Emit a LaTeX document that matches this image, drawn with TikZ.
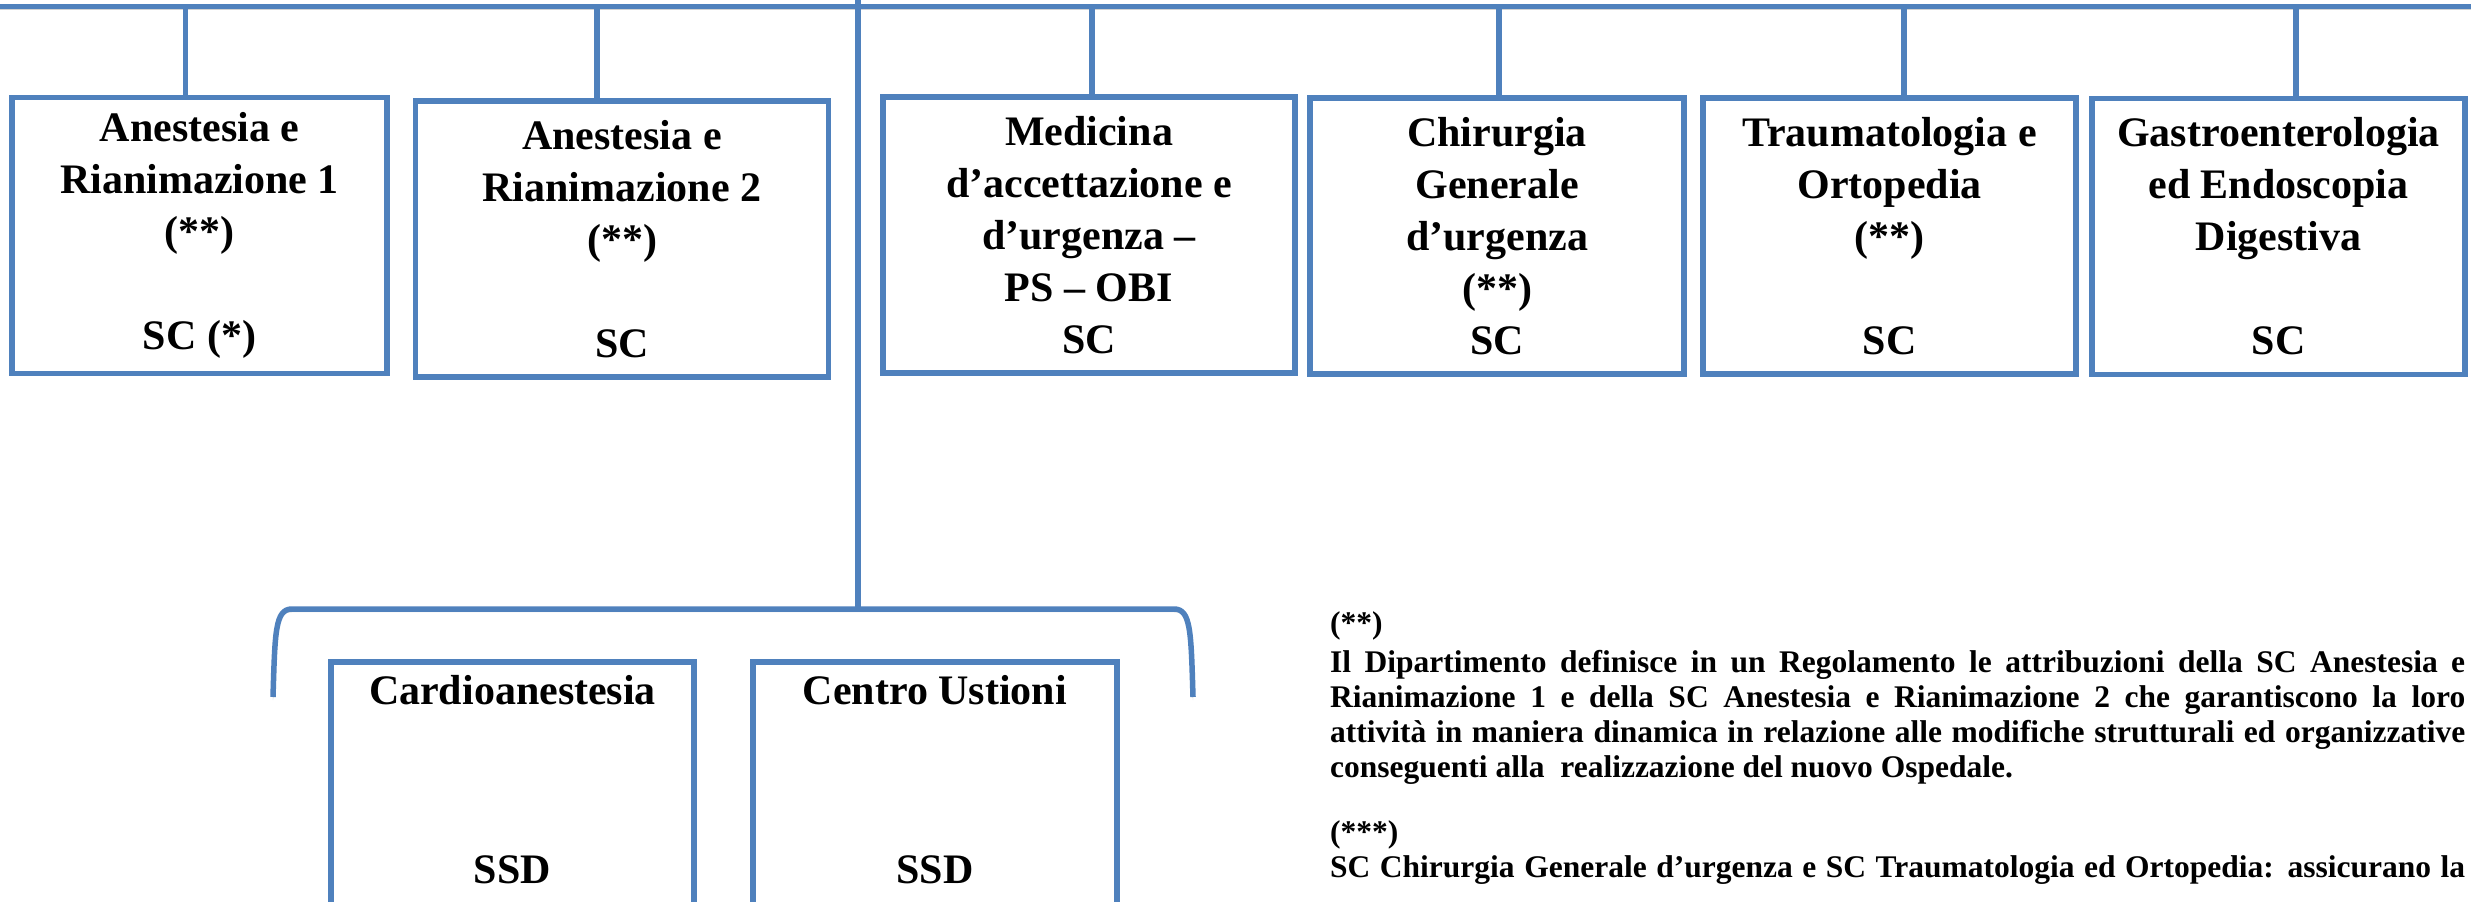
\documentclass[tikz,border=0pt]{standalone}
\usepackage{fontspec}
\setmainfont{Liberation Serif}
\definecolor{orgblue}{HTML}{4F81BD}
\newcommand\orgboxfont{\fontsize{42}{52}\selectfont\bfseries}
\newcommand\orgnotefont{\fontsize{31.5}{35.3}\selectfont\bfseries}
\begin{document}
\begin{tikzpicture}[x=1pt,y=-1pt,
  box/.style={draw=orgblue, line width=5.5pt, inner sep=0pt, align=center, font=\orgboxfont, fill=white},
  txt/.style={inner sep=0pt, font=\orgboxfont},
  note/.style={inner sep=0pt, anchor=base west, font=\orgnotefont},
  shadowed/.style={preaction={draw=black!18, transform canvas={yshift=-3pt}}},
  conn/.style={draw=orgblue, line width=5.5pt},
  mainline/.style={draw=orgblue, line width=5.5pt, shadowed},
  bracketline/.style={draw=orgblue, line width=5.5pt, shadowed}]
\useasboundingbox (0,0) rectangle (2471,902);
\clip (0,0) rectangle (2471,902);
\fill[white] (0,0) rectangle (2471,902);

% top line
\coordinate (tl) at (0,6.5);
\coordinate (tr) at (2471,6.5);
\draw[mainline] (tl) -- (tr);

% connector anchors on the top line
\coordinate (c1) at (185.5,6.5);
\coordinate (c2) at (597,6.5);
\coordinate (c3) at (1092,6.5);
\coordinate (c4) at (1499,6.5);
\coordinate (c5) at (1904,6.5);
\coordinate (c6) at (2296,6.5);
\coordinate (ctop) at (858,0);
\coordinate (bk) at (858,609);
\coordinate (bl) at (273,697);
\coordinate (br) at (1193,697);

% connectors (drawn before boxes)
\draw[conn] (c1) -- (c1 |- 0,99);
\draw[conn] (c2) -- (c2 |- 0,103);
\draw[conn] (c3) -- (c3 |- 0,99);
\draw[conn] (c4) -- (c4 |- 0,100);
\draw[conn] (c5) -- (c5 |- 0,100);
\draw[conn] (c6) -- (c6 |- 0,100);
\draw[conn] (ctop) -- (bk);

% bracket
\draw[bracketline] (bl) .. controls (275,632) and (275,609) .. (292,609) -- (1174,609) .. controls (1191,609) and (1191,632) .. (br);

% top boxes
\node[box, minimum width=375pt, minimum height=276pt] (b1) at (199.5,235.5)
  {Anestesia e\\Rianimazione 1\\(**)\\[52pt]SC (*)};
\node[box, minimum width=413pt, minimum height=276pt] (b2) at (622,239)
  {Anestesia e\\Rianimazione 2\\(**)\\[52pt]SC};
\node[box, minimum width=412pt, minimum height=276pt] (b3) at (1089,235)
  {Medicina\\d’accettazione e\\d’urgenza –\\PS – OBI\\SC};
\node[box, minimum width=374pt, minimum height=276pt] (b4) at (1497,236)
  {Chirurgia\\Generale\\d’urgenza\\(**)\\SC};
\node[box, minimum width=373pt, minimum height=276pt] (b5) at (1889.5,236)
  {Traumatologia e\\Ortopedia\\(**)\\[52pt]SC};
\node[box, minimum width=373pt, minimum height=276pt] (b6) at (2278.5,236.5)
  {Gastroenterologia\\ed Endoscopia\\Digestiva\\[52pt]SC};

% bottom boxes (cut by the page edge)
\node[box, minimum width=363pt, minimum height=300pt, anchor=north] (b7) at (512.5,659) {};
\node[box, minimum width=364pt, minimum height=300pt, anchor=north] (b8) at (935,659) {};
\node[txt] (t7a) at (512.5,690) {Cardioanestesia};
\node[txt] (t7b) at (512.5,870) {SSD};
\node[txt] (t8a) at (935,690) {Centro Ustioni};
\node[txt] (t8b) at (935,870) {SSD};

% notes
\node[note] (n1) at (1330,633) {(**)};
\node[note] (n2) at (1330,672) {\parbox[t]{1135pt}{\orgnotefont\baselineskip=35.3pt
\makebox[\linewidth][s]{Il Dipartimento definisce in un Regolamento le attribuzioni della SC Anestesia e}\par
\makebox[\linewidth][s]{Rianimazione 1 e della SC Anestesia e Rianimazione 2 che garantiscono la loro}\par
\makebox[\linewidth][s]{attività in maniera dinamica in relazione alle modifiche strutturali ed organizzative}\par
\makebox[\linewidth][l]{conseguenti alla \ realizzazione del nuovo Ospedale.}}};
\node[note] (n3) at (1330,842) {(***)};
\node[note] (n4) at (1330,877) {\makebox[1135pt][s]{SC Chirurgia Generale d’urgenza e SC Traumatologia ed Ortopedia: assicurano la}};
\end{tikzpicture}
\end{document}
